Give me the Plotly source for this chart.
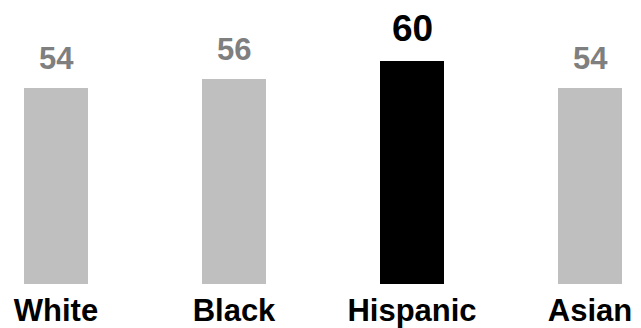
import plotly.graph_objects as go

categories = ["White", "Black", "Hispanic", "Asian"]
values = [54, 56, 60, 54]
bar_colors = ["#bfbfbf", "#bfbfbf", "#000000", "#bfbfbf"]
label_colors = ["#7f7f7f", "#7f7f7f", "#000000", "#7f7f7f"]
label_sizes = [31, 31, 37, 31]

FONT = "Liberation Sans, Arial, sans-serif"

fig = go.Figure()
fig.add_trace(go.Bar(
    x=list(range(len(categories))),
    y=values,
    marker=dict(color=bar_colors, line=dict(width=0)),
    width=0.36,
    hoverinfo="skip",
))

for i, (v, c, s) in enumerate(zip(values, label_colors, label_sizes)):
    fig.add_annotation(
        x=i, y=v, text=f"<b>{v}</b>", showarrow=False,
        yanchor="bottom", yshift=10,
        font=dict(family=FONT, size=s, color=c),
    )

fig.update_layout(
    width=641, height=328,
    margin=dict(l=0, r=0, t=0, b=44),
    plot_bgcolor="white", paper_bgcolor="white",
    showlegend=False,
    bargap=0,
    xaxis=dict(
        range=[-0.3146, 3.2865],
        tickmode="array",
        tickvals=list(range(len(categories))),
        ticktext=[f"<b>{c}</b>" for c in categories],
        tickfont=dict(family=FONT, size=31, color="#000000"),
        showgrid=False, zeroline=False, showline=False, ticks="",
        ticklabelstandoff=5,
        automargin=False,
    ),
    yaxis=dict(
        range=[10.44, 73.56],
        visible=False,
        showgrid=False, zeroline=False,
        automargin=False,
    ),
)

fig.write_html("out.html")
